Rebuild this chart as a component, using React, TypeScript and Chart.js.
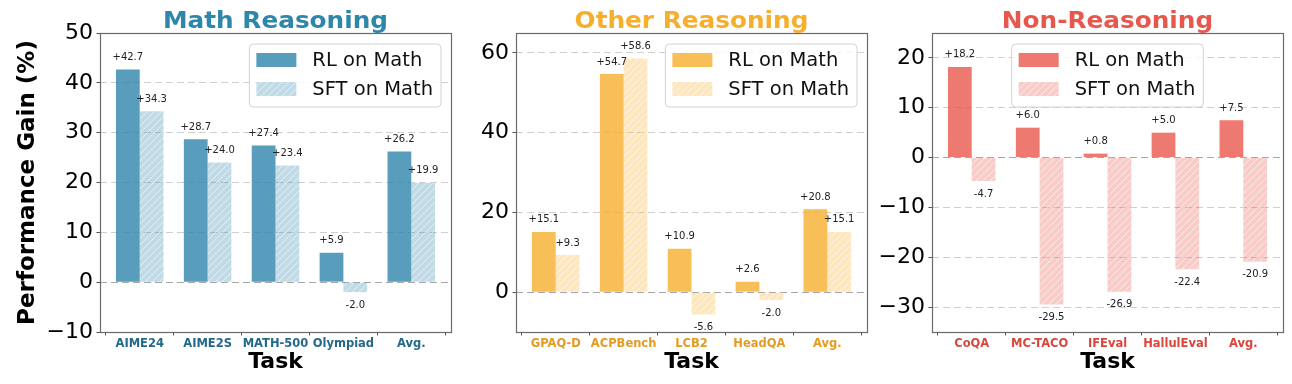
import React, { useEffect, useRef } from "react";
import { Chart, registerables } from "chart.js";
Chart.register(...registerables);

const FONT = "'DejaVu Sans', 'Noto Sans', sans-serif";

// ---------- data ----------
const seriesNames = ["RL on Math", "SFT on Math"];

const mathTasks = ["AIME24", "AIME2S", "MATH-500", "Olympiad", "Avg."];
const mathRL = [42.7, 28.7, 27.4, 5.9, 26.2];
const mathSFT = [34.3, 24.0, 23.4, -2.0, 19.9];
const mathYTicks = [-10, 0, 10, 20, 30, 40, 50];

const otherTasks = ["GPAQ-D", "ACPBench", "LCB2", "HeadQA", "Avg."];
const otherRL = [15.1, 54.7, 10.9, 2.6, 20.8];
const otherSFT = [9.3, 58.6, -5.6, -2.0, 15.1];
const otherYTicks = [0, 20, 40, 60];

const nonTasks = ["CoQA", "MC-TACO", "IFEval", "HallulEval", "Avg."];
const nonRL = [18.2, 6.0, 0.8, 5.0, 7.5];
const nonSFT = [-4.7, -29.5, -26.9, -22.4, -20.9];
const nonYTicks = [-30, -20, -10, 0, 10, 20];

// ---------- helpers ----------
function rgba(rgb: number[], a: number) {
  return `rgba(${rgb[0]},${rgb[1]},${rgb[2]},${a})`;
}

function makeHatch(rgb: number[], alpha: number): CanvasPattern | string {
  const s = 7;
  const c = document.createElement("canvas");
  c.width = s;
  c.height = s;
  const g = c.getContext("2d");
  if (!g) return rgba(rgb, alpha);
  g.fillStyle = rgba(rgb, alpha);
  g.fillRect(0, 0, s, s);
  g.strokeStyle = "rgba(255,255,255,0.55)";
  g.lineWidth = 1;
  g.beginPath();
  g.moveTo(0, s);
  g.lineTo(s, 0);
  g.moveTo(-1, 1);
  g.lineTo(1, -1);
  g.moveTo(s - 1, s + 1);
  g.lineTo(s + 1, s - 1);
  g.stroke();
  return g.createPattern(c, "repeat") || rgba(rgb, alpha);
}

function fmtTick(v: number) {
  return v < 0 ? "\u2212" + Math.abs(v) : String(v);
}

type PanelProps = {
  left: number;
  width: number;
  yAxisWidth: number;
  padRight: number;
  title: string;
  titleColor: string;
  labelColor: string;
  baseRGB: number[];
  tasks: string[];
  rl: number[];
  sft: number[];
  yMin: number;
  yMax: number;
  yTicks: number[];
  showYTitle: boolean;
  legendAlign: "right" | "center";
};

function Panel(p: PanelProps) {
  const ref = useRef<HTMLCanvasElement | null>(null);
  useEffect(() => {
    const canvas = ref.current;
    if (!canvas) return;
    const rlColor = rgba(p.baseRGB, 0.8);
    const sftFill = makeHatch(p.baseRGB, 0.3);

    const decor = {
      id: "decor" + p.title.replace(/\W/g, ""),
      afterDatasetsDraw(chart: any) {
        const ctx = chart.ctx;
        const area = chart.chartArea;
        // value labels
        ctx.save();
        ctx.font = `10px ${FONT}`;
        ctx.fillStyle = "#222";
        ctx.textAlign = "center";
        ctx.textBaseline = "alphabetic";
        chart.data.datasets.forEach((ds: any, di: number) => {
          const meta = chart.getDatasetMeta(di);
          meta.data.forEach((el: any, i: number) => {
            const v = di === 0 ? p.rl[i] : p.sft[i];
            const txt = (v > 0 ? "+" : "") + v.toFixed(1);
            const y = v >= 0 ? el.y - 9.5 : el.y + 15.5;
            ctx.fillText(txt, el.x, y);
          });
        });
        ctx.restore();
        // frame
        ctx.save();
        ctx.strokeStyle = "#6a6a6a";
        ctx.lineWidth = 1.2;
        ctx.strokeRect(
          Math.round(area.left) + 0.5,
          Math.round(area.top) + 0.5,
          Math.round(area.right - area.left),
          Math.round(area.bottom - area.top)
        );
        ctx.restore();
      },
      afterDraw(chart: any) {
        const ctx = chart.ctx;
        const area = chart.chartArea;
        // title (slightly widened to match reference proportions)
        ctx.save();
        ctx.font = `bold 22.5px ${FONT}`;
        ctx.fillStyle = p.titleColor;
        ctx.textAlign = "center";
        ctx.textBaseline = "alphabetic";
        ctx.translate((area.left + area.right) / 2, 28);
        ctx.scale(1.1, 1);
        ctx.fillText(p.title, 0, 0);
        ctx.restore();
        // legend
        ctx.save();
        ctx.font = `19.5px ${FONT}`;
        const tw = Math.max(...seriesNames.map((s) => ctx.measureText(s).width));
        const bw = 63 + tw + 8;
        const bh = 63;
        const bx =
          p.legendAlign === "right"
            ? area.right - 10 - bw
            : (area.left + area.right) / 2 - bw / 2;
        const by = area.top + 11;
        const r = 4;
        ctx.beginPath();
        ctx.moveTo(bx + r, by);
        ctx.lineTo(bx + bw - r, by);
        ctx.quadraticCurveTo(bx + bw, by, bx + bw, by + r);
        ctx.lineTo(bx + bw, by + bh - r);
        ctx.quadraticCurveTo(bx + bw, by + bh, bx + bw - r, by + bh);
        ctx.lineTo(bx + r, by + bh);
        ctx.quadraticCurveTo(bx, by + bh, bx, by + bh - r);
        ctx.lineTo(bx, by + r);
        ctx.quadraticCurveTo(bx, by, bx + r, by);
        ctx.closePath();
        ctx.fillStyle = "rgba(255,255,255,0.85)";
        ctx.fill();
        ctx.strokeStyle = "rgba(210,210,210,1)";
        ctx.lineWidth = 1;
        ctx.stroke();
        const fills = [rlColor, sftFill];
        seriesNames.forEach((name, i) => {
          const cy = by + 16 + i * 29;
          ctx.fillStyle = "#fff";
          ctx.fillRect(bx + 7, cy - 7, 40, 14);
          ctx.fillStyle = fills[i] as any;
          ctx.fillRect(bx + 7, cy - 7, 40, 14);
          ctx.fillStyle = "#111";
          ctx.textAlign = "left";
          ctx.textBaseline = "middle";
          ctx.fillText(name, bx + 63, cy + 1);
        });
        ctx.restore();
      },
    };

    const chart = new Chart(canvas, {
      type: "bar",
      data: {
        datasets: [
          {
            label: seriesNames[0],
            data: p.tasks.map((_, i) => ({ x: i, y: p.rl[i] })),
            backgroundColor: rlColor,
            borderWidth: 0,
            categoryPercentage: 0.7,
            barPercentage: 1.0,
          },
          {
            label: seriesNames[1],
            data: p.tasks.map((_, i) => ({ x: i, y: p.sft[i] })),
            backgroundColor: sftFill as any,
            borderWidth: 0,
            categoryPercentage: 0.7,
            barPercentage: 1.0,
          },
        ],
      },
      options: {
        animation: false,
        responsive: false,
        maintainAspectRatio: false,
        layout: { padding: { top: 33, right: p.padRight, left: 0, bottom: 0 } },
        plugins: {
          legend: { display: false },
          tooltip: { enabled: false },
          title: { display: false },
        },
        scales: {
          x: {
            type: "linear",
            min: -0.585,
            max: 4.585,
            offset: false,
            afterBuildTicks: (s: any) => {
              s.ticks = p.tasks.map((_, i) => ({ value: i }));
            },
            afterFit: (s: any) => {
              s.height = 52;
            },
            grid: {
              display: true,
              drawOnChartArea: false,
              drawTicks: true,
              tickLength: 3.5,
              tickColor: "#555",
              tickWidth: 1,
            },
            border: { display: false },
            ticks: {
              autoSkip: false,
              maxRotation: 0,
              minRotation: 0,
              padding: 2,
              color: p.labelColor,
              font: { family: FONT, size: 11.5, weight: "bold" },
              callback: (v: any, i: number) => p.tasks[i],
            },
            title: {
              display: true,
              text: "Task",
              color: "#000",
              font: { family: FONT, size: 22, weight: "bold", lineHeight: 1.2 },
              padding: { top: 0, bottom: 8.8 },
            },
          },
          y: {
            type: "linear",
            min: p.yMin,
            max: p.yMax,
            afterBuildTicks: (s: any) => {
              s.ticks = p.yTicks.map((v) => ({ value: v }));
            },
            afterFit: (s: any) => {
              s.width = p.yAxisWidth;
            },
            grid: {
              color: (c: any) =>
                c.tick && c.tick.value === 0 ? "rgba(145,145,145,0.8)" : "rgba(195,195,195,0.8)",
              lineWidth: 1,
              drawTicks: true,
              tickLength: 3.5,
              tickColor: "#555",
              tickWidth: 1,
              tickBorderDash: [],
            } as any,
            border: { display: false, dash: [7, 4] } as any,
            ticks: {
              padding: 3.5,
              color: "#000",
              font: { family: FONT, size: 22 },
              callback: (v: any) => fmtTick(Number(v)),
            },
            title: {
              display: p.showYTitle,
              text: "Performance Gain (%)",
              color: "#000",
              font: { family: FONT, size: 23, weight: "bold", lineHeight: 1.2 },
              padding: { top: 14, bottom: 0 },
            },
          },
        },
      } as any,
      plugins: [decor],
    });
    return () => chart.destroy();
  }, []);
  return (
    <canvas
      ref={ref}
      width={p.width}
      height={384}
      style={{ position: "absolute", left: p.left, top: 0, width: p.width, height: 384 }}
    />
  );
}

export default function App() {
  return (
    <div
      style={{
        position: "absolute",
        left: 0,
        top: 0,
        width: 1292,
        height: 384,
        background: "#fff",
        overflow: "hidden",
      }}
    >
      <Panel
        left={0}
        width={470}
        yAxisWidth={100}
        padRight={19}
        title="Math Reasoning"
        titleColor="#2E86AB"
        labelColor="#23698A"
        baseRGB={[46, 134, 171]}
        tasks={mathTasks}
        rl={mathRL}
        sft={mathSFT}
        yMin={-10}
        yMax={50}
        yTicks={mathYTicks}
        showYTitle={true}
        legendAlign="right"
      />
      <Panel
        left={466}
        width={414}
        yAxisWidth={50}
        padRight={13}
        title="Other Reasoning"
        titleColor="#F6AE2D"
        labelColor="#E59A22"
        baseRGB={[246, 174, 45]}
        tasks={otherTasks}
        rl={otherRL}
        sft={otherSFT}
        yMin={-10}
        yMax={65}
        yTicks={otherYTicks}
        showYTitle={false}
        legendAlign="right"
      />
      <Panel
        left={870}
        width={422}
        yAxisWidth={62}
        padRight={9}
        title="Non-Reasoning"
        titleColor="#E8574C"
        labelColor="#D9463C"
        baseRGB={[232, 87, 76]}
        tasks={nonTasks}
        rl={nonRL}
        sft={nonSFT}
        yMin={-35}
        yMax={25}
        yTicks={nonYTicks}
        showYTitle={false}
        legendAlign="center"
      />
    </div>
  );
}
